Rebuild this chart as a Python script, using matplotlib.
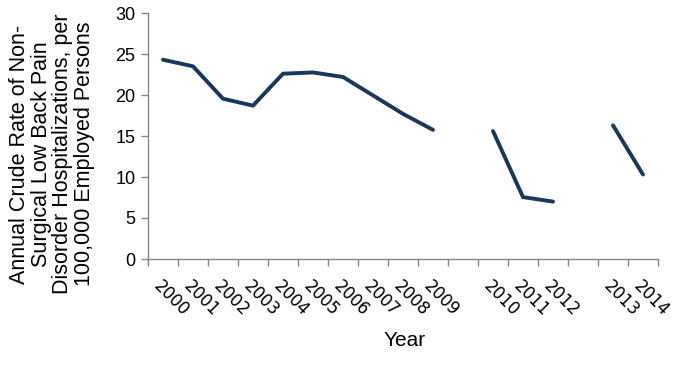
import numpy as np
import matplotlib
matplotlib.use('Agg')
import matplotlib.pyplot as plt

# Datos (categorías vacías entre 2009/2010 y 2012/2013)
categories = ['2000', '2001', '2002', '2003', '2004', '2005', '2006', '2007',
              '2008', '2009', '', '2010', '2011', '2012', '', '2013', '2014']
rates = [24.3, 23.5, 19.55, 18.7, 22.6, 22.75, 22.2, 19.95,
         17.7, 15.75, None, 15.6, 7.55, 7.0, None, 16.3, 10.3]

y_ticks = [0, 5, 10, 15, 20, 25, 30]

W, H = 685, 386
fig = plt.figure(figsize=(W / 100, H / 100), dpi=100)
ax = fig.add_axes([148 / W, 1 - 259 / H, (658 - 148) / W, (259 - 13) / H])

x = np.arange(len(categories))
y = np.array([np.nan if v is None else v for v in rates])
ax.plot(x, y, color='#17375E', linewidth=2.8, solid_capstyle='round',
        solid_joinstyle='round')

axis_color = '#868686'
ax.set_xlim(-0.5, len(categories) - 0.5)
ax.set_ylim(0, 30)
for side in ['top', 'right']:
    ax.spines[side].set_visible(False)
for side in ['left', 'bottom']:
    ax.spines[side].set_color(axis_color)
    ax.spines[side].set_linewidth(1.0)

# Marcas de graduación en los bordes de las categorías
ax.set_xticks(np.arange(len(categories) + 1) - 0.5)
ax.set_xticklabels([])
ax.tick_params(axis='x', which='major', direction='out', length=5,
               color=axis_color, width=1.0)
ax.set_xticks(x, minor=True)
ax.set_xticklabels(categories, minor=True, rotation=-45, ha='left', va='top',
                   rotation_mode='anchor', fontsize=12, family='DejaVu Sans')
ax.tick_params(axis='x', which='minor', length=0, pad=13)

ax.set_yticks(y_ticks)
ax.set_yticklabels([str(t) for t in y_ticks], fontsize=13,
                   family='Liberation Sans')
ax.tick_params(axis='y', direction='out', length=5, color=axis_color,
               width=1.0, pad=4)

fig.text(405 / W, 1 - 340 / H, 'Year', ha='center', va='center',
         fontsize=15, family='Liberation Sans')
fig.text(52 / W, 1 - 154 / H,
         'Annual Crude Rate of Non-\nSurgical Low Back Pain\n'
         'Disorder Hospitalizations, per\n100,000 Employed Persons',
         ha='center', va='center', rotation=90, multialignment='center',
         fontsize=15.5, family='Liberation Sans', linespacing=1.04)

fig.savefig('out.png', dpi=100)
